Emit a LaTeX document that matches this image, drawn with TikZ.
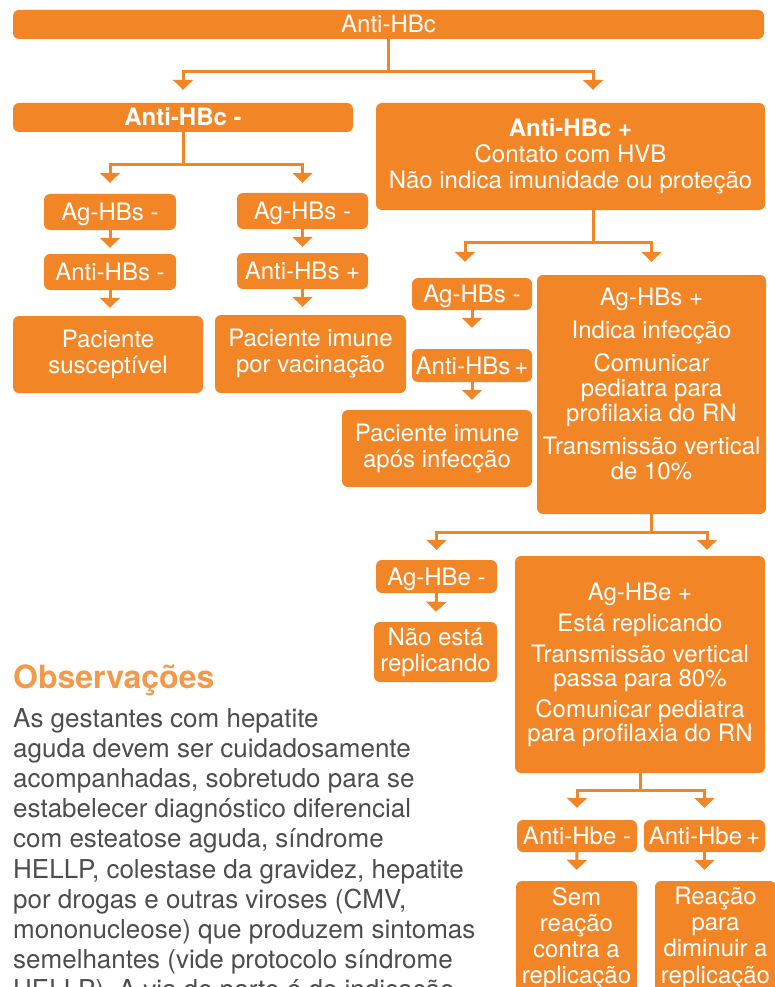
\documentclass[tikz,border=0pt]{standalone}
\usepackage{fontspec}
\setmainfont{TeX Gyre Heros}
\usetikzlibrary{arrows.meta}
\definecolor{hbvorange}{HTML}{F28526}
\definecolor{obstitle}{HTML}{F4994A}
\definecolor{obstext}{HTML}{4D4D4D}
\newcommand{\pushup}[1]{\rule[-#1]{0pt}{#1}}

\begin{document}
\begin{tikzpicture}[
                x=1pt, y=-1pt,
                box/.style={fill=hbvorange, rounded corners=6pt, text=white,
                    align=center, inner sep=0pt,
                    font=\fontsize{24}{26}\selectfont},
                tag/.style={box, text height=17pt, text depth=0pt},
                flow/.style={draw=hbvorange, line width=3pt,
                    -{Triangle[width=20pt,length=10pt]}}]
            \useasboundingbox (0,0) rectangle (774,987);

            \node[tag, minimum width=751pt, minimum height=29pt]  (top)    at (388.5,24.5) {Anti-HBc};
            \node[tag, minimum width=340pt, minimum height=29pt]  (neg)    at (183,117.5)  {\bfseries Anti-HBc -};
            \node[box, minimum width=389pt, minimum height=107pt] (pos)    at (570.5,156.5)
                {\bfseries Anti-HBc +\\ Contato com HVB\\ Não indica imunidade ou proteção};

            \node[tag, minimum width=132pt, minimum height=36pt]  (agA)    at (110,212)    {Ag-HBs -};
            \node[tag, minimum width=132pt, minimum height=36pt]  (antiA)  at (110,272)    {Anti-HBs -};
            \node[box, minimum width=190pt, minimum height=77pt]  (pacA)   at (108,354.5)  {Paciente\\ susceptível};
            \node[tag, minimum width=131pt, minimum height=36pt]  (agB)    at (302.5,211)  {Ag-HBs -};
            \node[tag, minimum width=131pt, minimum height=36pt]  (antiB)  at (302.5,271)  {Anti-HBs +};
            \node[box, minimum width=191pt, minimum height=78pt]  (pacB)   at (310.5,354)  {Paciente imune\\ por vacinação};

            \node[tag, minimum width=120pt, minimum height=32pt]  (agC)    at (472,294)    {Ag-HBs -};
            \node[tag, minimum width=120pt, minimum height=33pt]  (antiC)  at (472,365.5)  {Anti-HBs\,+};
            \node[box, minimum width=190pt, minimum height=77pt]  (pacC)   at (437,448.5)  {Paciente imune\\ após infecção};
            \node[box, minimum width=229pt, minimum height=239pt,
                  font=\fontsize{24}{25}\selectfont]             (agpos)  at (651.5,394.5)
                {Ag-HBs +\\[8pt] Indica infecção\\[8pt] Comunicar\\ pediatra para\\ profilaxia do RN\\[8pt]
                 Transmissão vertical\\ de 10\%\pushup{22pt}};

            \node[tag, minimum width=121pt, minimum height=33pt]  (agEneg) at (436.5,576.5) {Ag-HBe -};
            \node[box, minimum width=123pt, minimum height=60pt]  (noRep)  at (435.5,652)   {Não está\\ replicando};
            \node[box, minimum width=250pt, minimum height=217pt,
                  font=\fontsize{24}{24}\selectfont]             (agEpos) at (640,664.5)
                {Ag-HBe +\\[7pt] Está replicando\\[7pt] Transmissão vertical\\ passa para 80\%\\[7pt]
                 Comunicar pediatra\\ para profilaxia do RN};

            \node[tag, minimum width=120pt, minimum height=32pt]  (hbeNeg) at (577,836)     {Anti-Hbe -};
            \node[tag, minimum width=121pt, minimum height=32pt]  (hbePos) at (704.5,836)   {Anti-Hbe\,+};
            \node[box, minimum width=121pt, minimum height=114pt] (semReac) at (576.5,938)
                {Sem\\ reação\\ contra a\\ replicação};
            \node[box, minimum width=121pt, minimum height=114pt] (reacPara) at (715.5,938)
                {Reação\\ para\\ diminuir a\\ replicação};

            \node[anchor=base west, inner sep=0pt, text=obstitle,
                  font=\bfseries\fontsize{32}{36}\selectfont]    (obs)    at (13,688)     {Observações};
            \node[anchor=base west, inner sep=0pt, text=obstext, align=left,
                  font=\fontsize{26}{30.2}\selectfont]           (obsText) at (13,998.8)
                {As gestantes com hepatite\\
                 aguda devem ser cuidadosamente\\
                 acompanhadas, sobretudo para se\\
                 estabelecer diagnóstico diferencial\\
                 com esteatose aguda, síndrome\\
                 HELLP, colestase da gravidez, hepatite\\
                 por drogas e outras viroses (CMV,\\
                 mononucleose) que produzem sintomas\\
                 semelhantes (vide protocolo síndrome\\
                 HELLP). A via de parto é de indicação};

            \draw[flow, shorten >=13pt] (top.south) -- ++(0,32) -| (neg.north);
            \draw[flow, shorten >=13pt] (top.south) -- ++(0,32) -| ([xshift=22.5pt]pos.north);
            \draw[flow, shorten >=11pt] (neg.south) -- ++(0,32) -| (agA.north);
            \draw[flow, shorten >=10pt] (neg.south) -- ++(0,32) -| (agB.north);
            \draw[flow, shorten >=6pt]  (agA.south) -- (antiA.north);
            \draw[flow, shorten >=8pt]  (antiA.south) -- (antiA.south |- pacA.north);
            \draw[flow, shorten >=6pt]  (agB.south) -- (antiB.north);
            \draw[flow, shorten >=8pt]  (antiB.south) -- (antiB.south |- pacB.north);

            \draw[flow, shorten >=16pt] ([xshift=22.5pt]pos.south) -- ++(0,32) -| ([xshift=-7pt]agC.north);
            \draw[flow, shorten >=13pt] ([xshift=22.5pt]pos.south) -- ++(0,32) -| (agpos.north);
            \draw[flow, shorten >=21pt] (agC.south) -- (antiC.north);
            \draw[flow, shorten >=10pt] (antiC.south) -- (antiC.south |- pacC.north);

            \draw[flow, shorten >=10pt] (agpos.south) -- ++(0,18) -| (agEneg.north);
            \draw[flow, shorten >=6pt]  (agpos.south) -- ++(0,18) -| ([xshift=67pt]agEpos.north);
            \draw[flow, shorten >=10pt] (agEneg.south) -- (noRep.north);

            \draw[flow, shorten >=12pt] (agEpos.south) -- ++(0,17) -| (hbeNeg.north);
            \draw[flow, shorten >=12pt] (agEpos.south) -- ++(0,17) -| (hbePos.north);
            \draw[flow, shorten >=11pt] (hbeNeg.south) -- (semReac.north);
            \draw[flow, shorten >=11pt] (hbePos.south) -- (hbePos.south |- reacPara.north);
        \end{tikzpicture}
\end{document}
